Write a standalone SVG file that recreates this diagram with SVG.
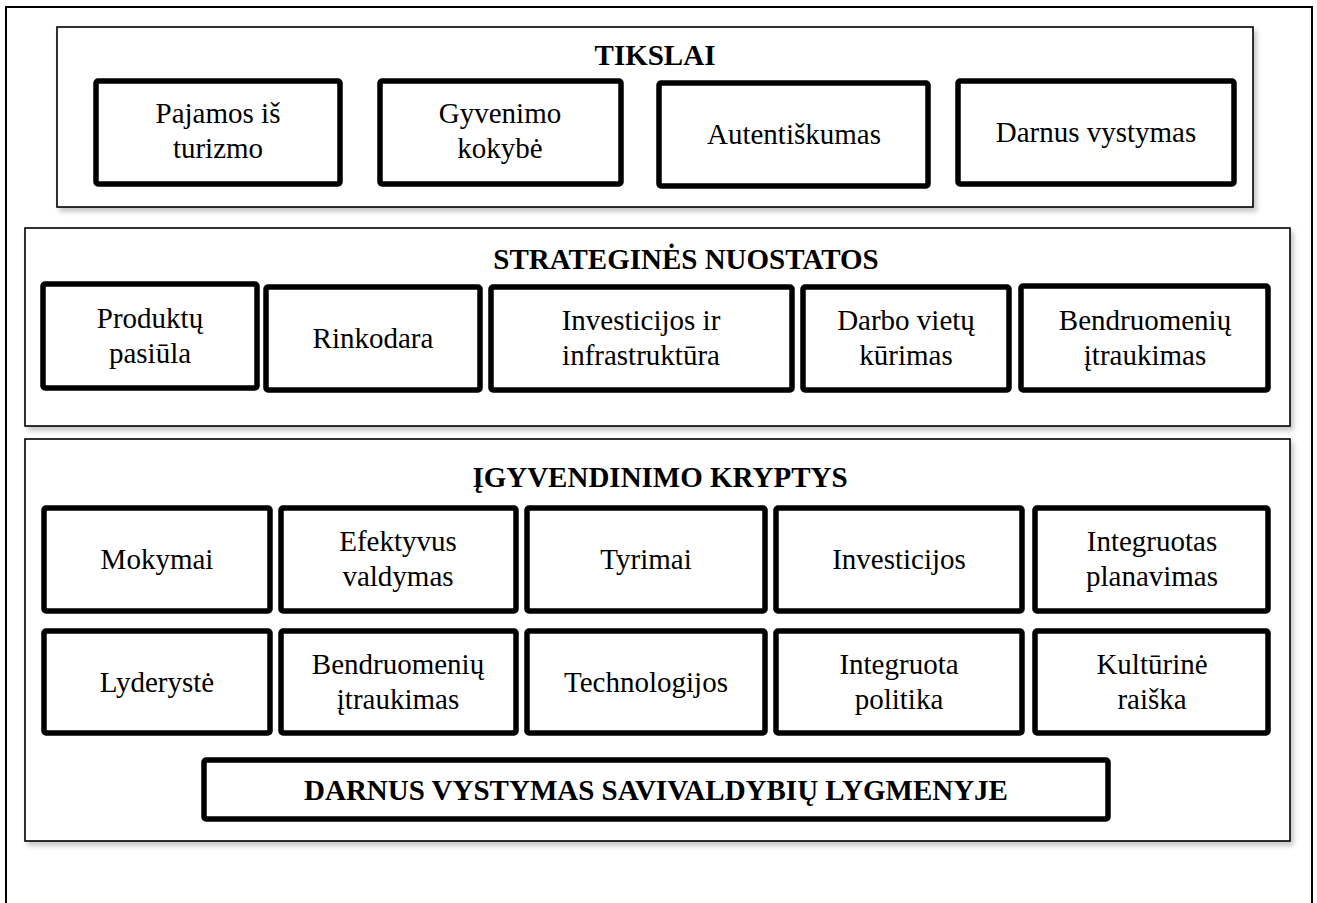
<svg xmlns="http://www.w3.org/2000/svg" width="1317" height="903" viewBox="0 0 1317 903">
<defs>
<filter id="sh" x="-5%" y="-10%" width="115%" height="130%">
<feDropShadow dx="3" dy="4" stdDeviation="2.5" flood-color="#000" flood-opacity="0.22"/>
</filter>
<style>
.frame{fill:#fff;stroke:#000;stroke-width:2}
.panel{fill:#fff;stroke:#000;stroke-width:1.6;filter:url(#sh)}
.box{fill:#fff;stroke:#000;stroke-width:5.5}
text{font-family:"Liberation Serif","Times New Roman",serif;font-size:29px;fill:#000;text-anchor:middle}
.t{font-weight:bold}
</style>
</defs>
<rect width="1317" height="903" fill="#fff"/>
<rect class="frame" x="6" y="7" width="1306" height="910"/>

<g id="panel-tikslai">
<rect class="panel" x="57" y="27" width="1196" height="180"/>
<text class="t" x="655" y="65">TIKSLAI</text>
</g>
<g id="goal-1"><rect class="box" x="96" y="81" width="244" height="103" rx="2"/><text x="218" y="123">Pajamos iš</text><text x="218" y="158">turizmo</text></g>
<g id="goal-2"><rect class="box" x="380" y="81" width="241" height="103" rx="2"/><text x="500" y="123">Gyvenimo</text><text x="500" y="158">kokybė</text></g>
<g id="goal-3"><rect class="box" x="659" y="83" width="269" height="103" rx="2"/><text x="794" y="144">Autentiškumas</text></g>
<g id="goal-4"><rect class="box" x="958" y="81" width="276" height="103" rx="2"/><text x="1096" y="142">Darnus vystymas</text></g>

<g id="panel-strategines">
<rect class="panel" x="25" y="228" width="1265" height="198"/>
<text class="t" x="686" y="269">STRATEGINĖS NUOSTATOS</text>
</g>
<g id="str-1"><rect class="box" x="43" y="284" width="214" height="104" rx="2"/><text x="150" y="328">Produktų</text><text x="150" y="363">pasiūla</text></g>
<g id="str-2"><rect class="box" x="266" y="287" width="214" height="103" rx="2"/><text x="373" y="348">Rinkodara</text></g>
<g id="str-3"><rect class="box" x="491" y="287" width="301" height="103" rx="2"/><text x="641" y="330">Investicijos ir</text><text x="641" y="365">infrastruktūra</text></g>
<g id="str-4"><rect class="box" x="803" y="287" width="206" height="103" rx="2"/><text x="906" y="330">Darbo vietų</text><text x="906" y="365">kūrimas</text></g>
<g id="str-5"><rect class="box" x="1021" y="286" width="247" height="104" rx="2"/><text x="1145" y="330">Bendruomenių</text><text x="1145" y="365">įtraukimas</text></g>

<g id="panel-igyvendinimo">
<rect class="panel" x="25" y="439" width="1265" height="402"/>
<text class="t" x="660" y="487">ĮGYVENDINIMO KRYPTYS</text>
</g>
<g id="imp-1"><rect class="box" x="44" y="508" width="226" height="103" rx="2"/><text x="157" y="569">Mokymai</text></g>
<g id="imp-2"><rect class="box" x="281" y="508" width="235" height="103" rx="2"/><text x="398" y="551">Efektyvus</text><text x="398" y="586">valdymas</text></g>
<g id="imp-3"><rect class="box" x="527" y="508" width="238" height="103" rx="2"/><text x="646" y="569">Tyrimai</text></g>
<g id="imp-4"><rect class="box" x="776" y="508" width="246" height="103" rx="2"/><text x="899" y="569">Investicijos</text></g>
<g id="imp-5"><rect class="box" x="1035" y="508" width="233" height="103" rx="2"/><text x="1152" y="551">Integruotas</text><text x="1152" y="586">planavimas</text></g>
<g id="imp-6"><rect class="box" x="44" y="631" width="226" height="102" rx="2"/><text x="157" y="692">Lyderystė</text></g>
<g id="imp-7"><rect class="box" x="281" y="631" width="235" height="102" rx="2"/><text x="398" y="674">Bendruomenių</text><text x="398" y="709">įtraukimas</text></g>
<g id="imp-8"><rect class="box" x="527" y="631" width="238" height="102" rx="2"/><text x="646" y="692">Technologijos</text></g>
<g id="imp-9"><rect class="box" x="776" y="631" width="246" height="102" rx="2"/><text x="899" y="674">Integruota</text><text x="899" y="709">politika</text></g>
<g id="imp-10"><rect class="box" x="1035" y="631" width="233" height="102" rx="2"/><text x="1152" y="674">Kultūrinė</text><text x="1152" y="709">raiška</text></g>
<g id="darnus-savivaldybiu"><rect class="box" x="204" y="760" width="904" height="59" rx="2"/><text class="t" x="656" y="800">DARNUS VYSTYMAS SAVIVALDYBIŲ LYGMENYJE</text></g>
<g id="connectors"></g>
</svg>
